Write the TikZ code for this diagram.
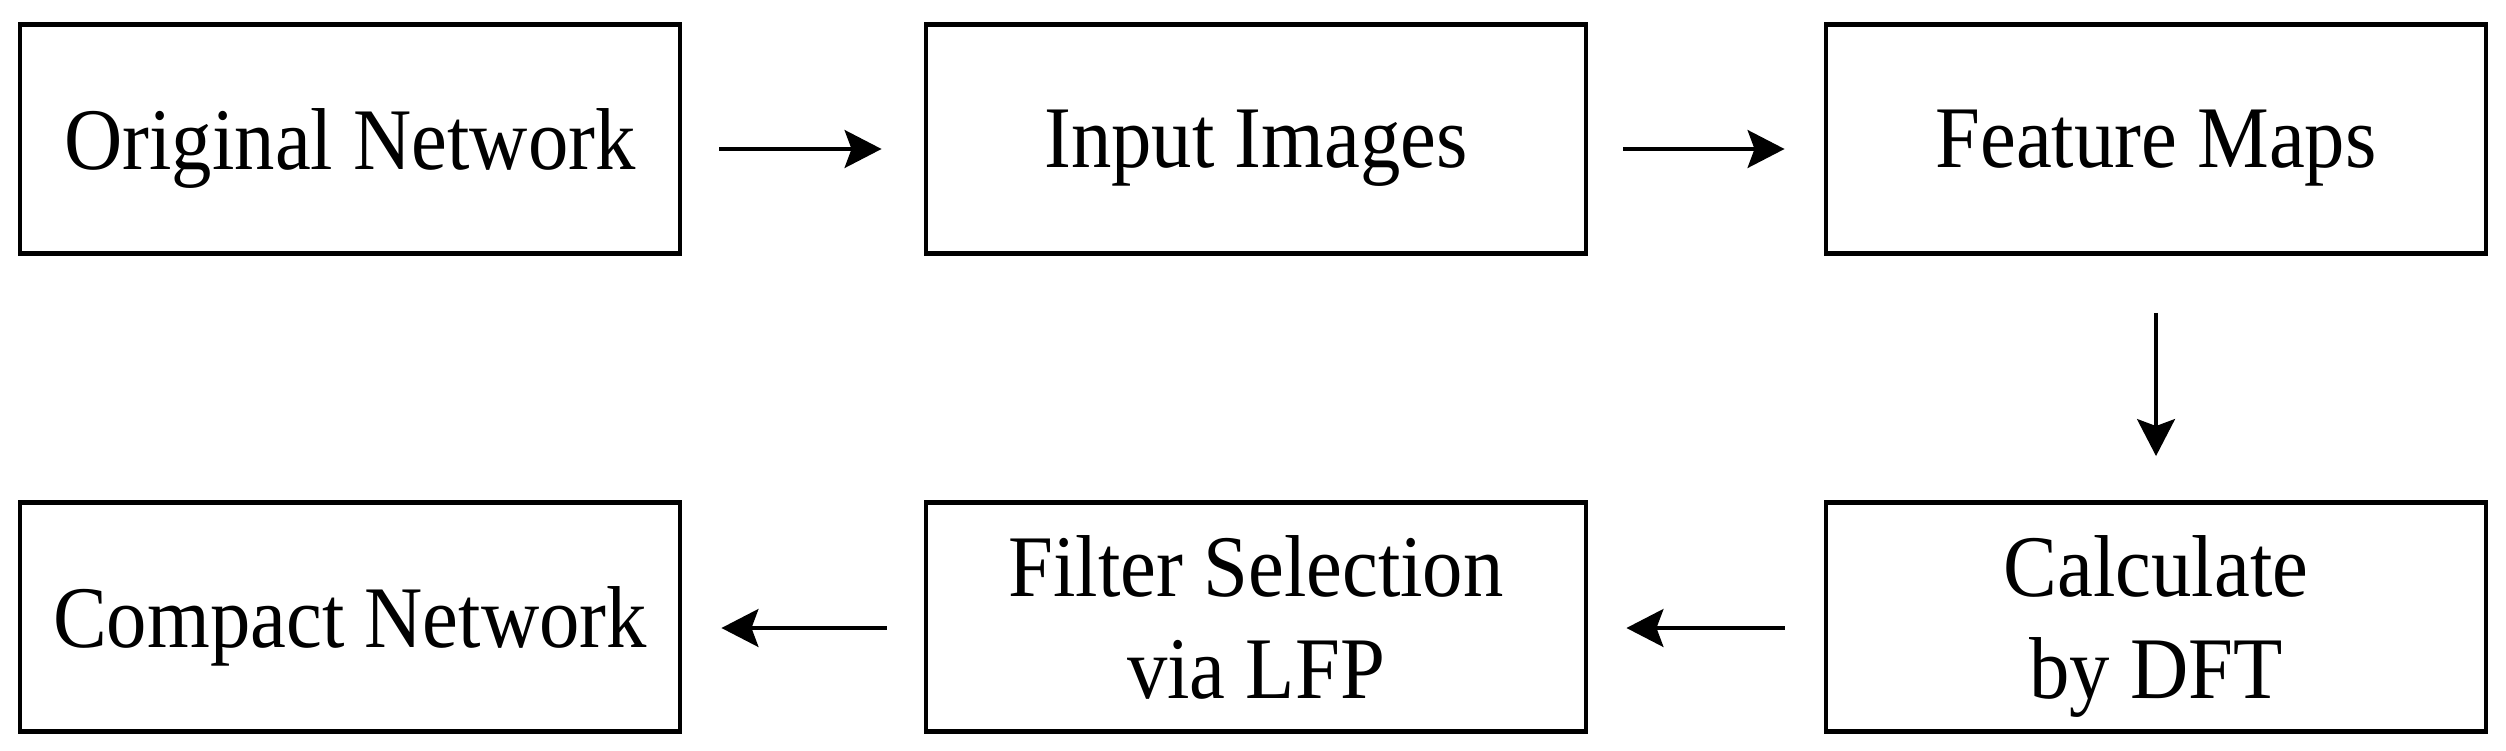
\documentclass[tikz,border=0pt]{standalone}
\usepackage{fontspec}
\setmainfont{Liberation Serif}[FakeStretch=0.918]
\usepackage{tikz}
\usetikzlibrary{shapes,arrows,positioning,calc,arrows.meta}

\begin{document}
\begin{tikzpicture}[
    block/.style={draw,rectangle,line width=1.4pt,minimum width=6.6cm,minimum height=2.29cm,
        align=center,text depth=0pt,font=\fontsize{25}{29}\selectfont},
    arr/.style={-{Stealth[length=3.7mm,width=3.8mm,inset=0.7mm]},line width=0.9pt}
]
    \useasboundingbox (0,0) rectangle (25.06,7.5);
    % Top row
    \node[block] (orig) at (3.50,6.11) {Original Network};
    \node[block] (input) at (12.56,6.11) {Input Images};
    \node[block] (feat) at (21.56,6.11) {Feature Maps};
    % Bottom row
    \node[block] (calc) at (21.56,1.33) {Calculate\\by DFT};
    \node[block] (sel) at (12.56,1.33) {Filter Selection\\via LFP};
    \node[block] (compact) at (3.50,1.33) {Compact Network};
    % Arrows
    \draw[arr,shorten <=3.7mm,shorten >=4.2mm] ([yshift=-1mm]orig.east) -- ([yshift=-1mm]input.west);
    \draw[arr,shorten <=3.5mm,shorten >=3.9mm] ([yshift=-1mm]input.east) -- ([yshift=-1mm]feat.west);
    \draw[arr,shorten <=5.7mm,shorten >=4.4mm] (feat.south) -- (calc.north);
    \draw[arr,shorten <=3.9mm,shorten >=3.8mm] ([yshift=-1.1mm]calc.west) -- ([yshift=-1.1mm]sel.east);
    \draw[arr,shorten <=3.7mm,shorten >=3.9mm] ([yshift=-1.1mm]sel.west) -- ([yshift=-1.1mm]compact.east);
\end{tikzpicture}
\end{document}
